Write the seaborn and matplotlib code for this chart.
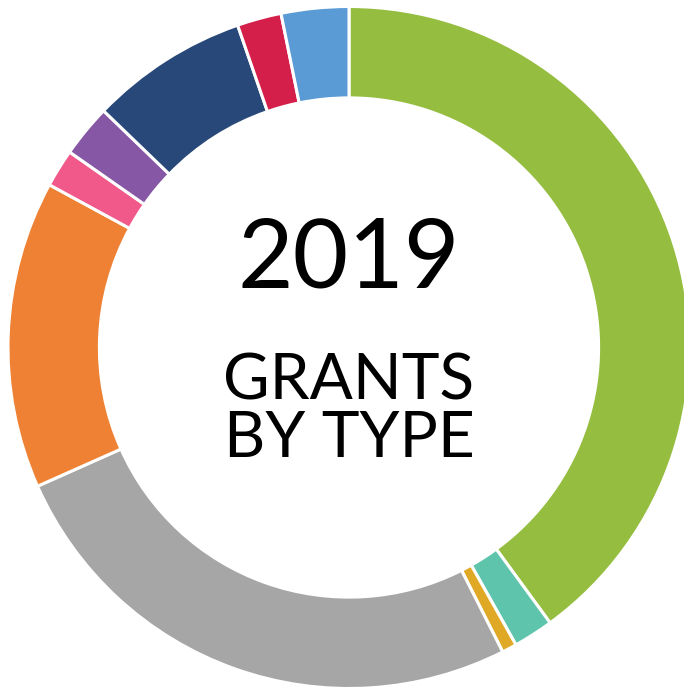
"""2019 grants by type — donut chart"""

import numpy as np
import pandas as pd
import matplotlib
matplotlib.use('Agg')
import matplotlib.pyplot as plt
import seaborn as sns

# 数据：按顺时针从12点方向开始 (单位: %)
grant_types = ['Type A', 'Type B', 'Type C', 'Type D', 'Type E',
               'Type F', 'Type G', 'Type H', 'Type I', 'Type J']
shares = [40.0, 1.9, 0.7, 25.8, 14.6, 1.8, 2.5, 7.5, 2.1, 3.2]
type_colors = ['#95BD3F', '#5EC4AB', '#E0A925', '#A6A6A6', '#EE8133',
               '#F0598A', '#8657A5', '#274879', '#D41F4A', '#5B9BD5']

year_label = '2019'
title_lines = ['GRANTS', 'BY TYPE']

df = pd.DataFrame({'type': grant_types, 'share': shares})

sns.set_theme(style='white')
plt.rcParams['font.family'] = ['Lato', 'DejaVu Sans']

W, H = 684, 693
fig = plt.figure(figsize=(W / 100, H / 100), dpi=100)
# 圆心 (349, 347.5) px, 半径 341 px — 右侧略超出画布
R = 341
cx, cy = 349, H - 347.5
ax = fig.add_axes([(cx - R) / W, (cy - R) / H, 2 * R / W, 2 * R / H])

palette = sns.color_palette(type_colors)
ax.pie(df['share'], colors=palette, startangle=90, counterclock=False,
       wedgeprops=dict(width=0.268, edgecolor='white', linewidth=2.2))
ax.set_xlim(-1, 1)
ax.set_ylim(-1, 1)
ax.set_aspect('equal')
ax.axis('off')

# 中心文字 (基线位置)
fig.text(cx / W, 1 - 288 / H, year_label, ha='center', va='baseline',
         fontsize=69, color='black')
fig.text(cx / W, 1 - 400 / H, title_lines[0], ha='center', va='baseline',
         fontsize=46, color='black')
fig.text(cx / W, 1 - 457 / H, title_lines[1], ha='center', va='baseline',
         fontsize=46, color='black')

fig.savefig('out.png', dpi=100, facecolor='white')
